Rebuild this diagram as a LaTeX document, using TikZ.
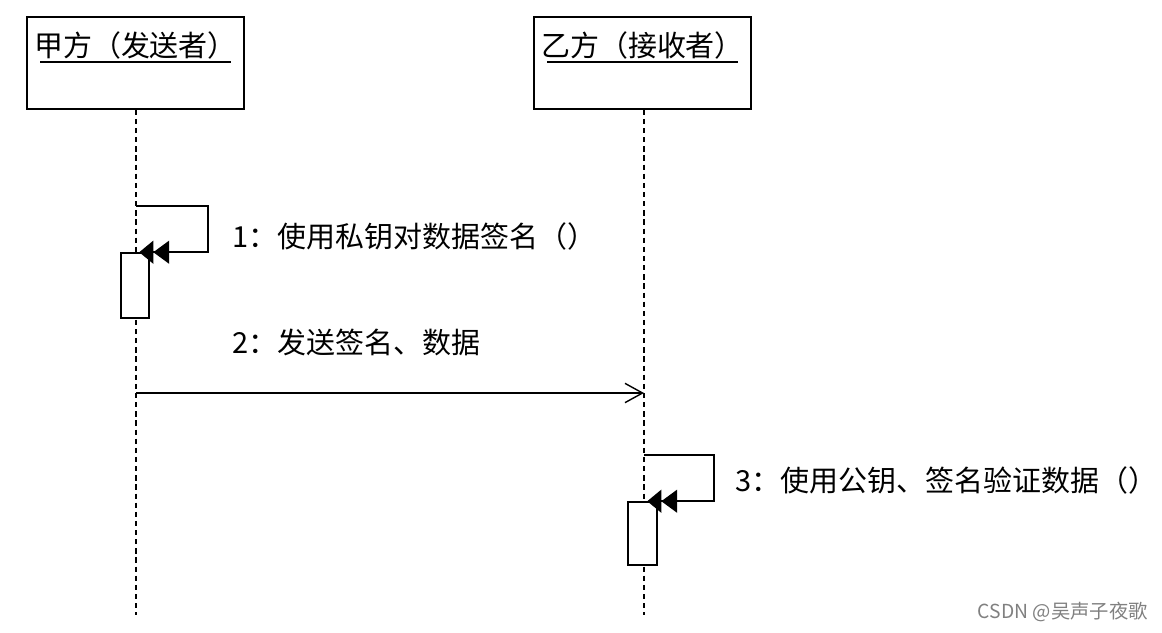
\documentclass[tikz,border=0pt]{standalone}
\usepackage{fontspec}
\setmainfont{Noto Sans CJK SC}
\usepackage{tikz}
\usetikzlibrary{positioning, arrows.meta, calc}

\begin{document}
\begin{tikzpicture}[
        x=0.02cm, y=-0.02cm,
        actor/.style={rectangle, draw, line width=0.9pt, minimum width=4.34cm, minimum height=1.84cm},
        title/.style={inner sep=0pt, font=\fontsize{16.5}{19}\selectfont},
        lifeline/.style={draw, line width=0.7pt, dash pattern=on 3pt off 2.2pt},
        activation/.style={rectangle, draw, fill=white, line width=0.9pt, inner sep=0pt},
        selfmsg/.style={draw, line width=0.9pt, -{Triangle[length=9pt,width=13pt]Triangle[length=8pt,width=13pt,sep=-6pt]}},
        message/.style={draw, line width=0.8pt, -{Straight Barb[length=10pt,width=11pt]}},
        msglabel/.style={anchor=west, inner sep=0pt, font=\fontsize{16.5}{19}\selectfont}
    ]
    \useasboundingbox (0,0) rectangle (1162,632);

    % ==========================================
    % 1. OBJECTS
    % ==========================================
    \node[actor] (Sender)   at (135.5, 63) {};
    \node[actor] (Receiver) at (642.5, 63) {};

    \node[title] (s_title) at (135.5, 45) {甲方（发送者）};
    \node[title] (r_title) at (642.5, 45) {乙方（接收者）};

    \draw[line width=0.9pt] (40, 62) -- (231, 62);
    \draw[line width=0.9pt] (547, 62) -- (738, 62);

    % ==========================================
    % 2. LIFELINES
    % ==========================================
    \coordinate (s_end) at (136, 615);
    \coordinate (r_end) at (644, 615);

    \draw[lifeline] (Sender.south -| s_end) -- (s_end);
    \draw[lifeline] (Receiver.south -| r_end) -- (r_end);

    % ==========================================
    % 3. ACTIVATIONS
    % ==========================================
    \node[activation, minimum width=0.56cm, minimum height=1.3cm]  (act1) at (135, 285.5) {};
    \node[activation, minimum width=0.58cm, minimum height=1.26cm] (act3) at (642.5, 533.5) {};

    % ==========================================
    % 4. MESSAGES
    % ==========================================

    % 1: sign with private key
    \coordinate (m1) at (136, 206);
    \draw[selfmsg] (m1) -- (208, 206) |- (act1.north east);
    \node[msglabel] (l1) at (232, 236) {1：使用私钥对数据签名（）};

    % 2: send signature and data
    \coordinate (m2a) at (136, 393);
    \coordinate (m2b) at (644, 393);
    \draw[message] (m2a) -- (m2b);
    \node[msglabel] (l2) at (232, 342) {2：发送签名、数据};

    % 3: verify with public key
    \coordinate (m3) at (644, 455);
    \draw[selfmsg] (m3) -- (714, 455) |- (act3.north east);
    \node[msglabel] (l3) at (735, 480) {3：使用公钥、签名验证数据（）};

    % watermark
    \node[anchor=east, inner sep=0pt, text=gray, font=\fontsize{11}{13}\selectfont] (mark) at (1148, 612) {CSDN @吴声子夜歌};

\end{tikzpicture}
\end{document}
